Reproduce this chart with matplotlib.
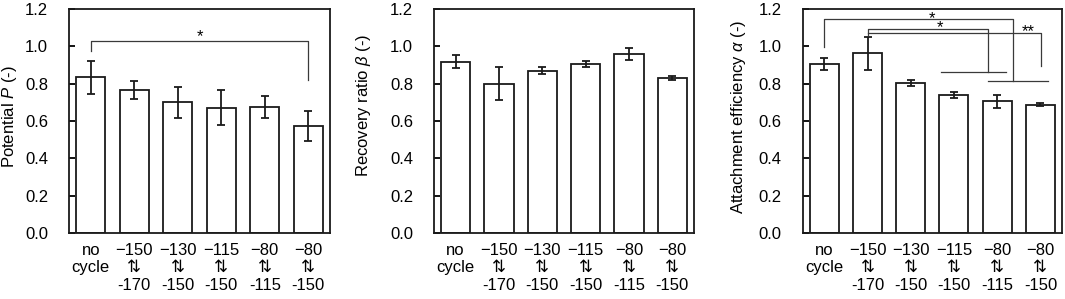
import numpy as np
import matplotlib
matplotlib.use("Agg")
import matplotlib.pyplot as plt

plt.rcParams['font.family'] = ['Liberation Sans', 'DejaVu Sans']
plt.rcParams['font.size'] = 12
plt.rcParams['mathtext.fontset'] = 'custom'
plt.rcParams['mathtext.rm'] = 'Liberation Sans'
plt.rcParams['mathtext.it'] = 'Liberation Sans:italic'

# categories
labels = ['no\ncycle', '\u2212150\n\u21c5\n-170', '\u2212130\n\u21c5\n-150',
          '\u2212115\n\u21c5\n-150', '\u221280\n\u21c5\n-115', '\u221280\n\u21c5\n-150']

# potential P
p_mean = [0.834, 0.768, 0.700, 0.671, 0.675, 0.573]
p_err = [0.087, 0.048, 0.082, 0.095, 0.060, 0.082]

# recovery ratio beta
b_mean = [0.918, 0.800, 0.869, 0.905, 0.959, 0.830]
b_err = [0.035, 0.090, 0.018, 0.014, 0.032, 0.010]

# attachment efficiency alpha
a_mean = [0.907, 0.962, 0.805, 0.741, 0.705, 0.687]
a_err = [0.032, 0.089, 0.015, 0.016, 0.033, 0.008]

ylabels = ['Potential $\\mathit{P}$ (-)', 'Recovery ratio $\\mathit{\\beta}$ (-)',
           'Attachment efficiency $\\mathit{\\alpha}$ (-)']

W, H = 1065, 299
fig = plt.figure(figsize=(W / 100, H / 100), dpi=100)
boxes = [(69, 261), (434, 260), (802.7, 259.3)]
label_pos = [(-0.19, 0.52), (-0.235, 0.57), (-0.21, 0.52)]
lw = 1.3
dark = '#1a1a1a'

axes = []
for left, width in boxes:
    ax = fig.add_axes([left / W, 66 / H, width / W, 224 / H])
    axes.append(ax)

x = np.arange(len(labels))
for ax, m, e, yl, lp in zip(axes, [p_mean, b_mean, a_mean], [p_err, b_err, a_err], ylabels, label_pos):
    ax.bar(x, m, width=0.67, color='white', edgecolor=dark, linewidth=lw,
           yerr=e, error_kw=dict(ecolor=dark, elinewidth=lw, capsize=2.7, capthick=lw))
    ax.set_xlim(-0.5, 5.5)
    ax.set_ylim(0, 1.2)
    ticks = np.arange(0, 1.21, 0.2)
    ax.set_yticks(ticks)
    ax.set_yticklabels([f'{v:.1f}' for v in ticks])
    ax.set_xticks(x)
    ax.set_xticklabels(labels)
    ax.tick_params(axis='x', length=0, pad=7)
    ax.tick_params(axis='y', direction='in', length=4, width=lw, pad=15)
    for s in ax.spines.values():
        s.set_linewidth(lw)
        s.set_color(dark)
    ax.set_ylabel(yl)
    ax.yaxis.set_label_coords(*lp)

bk = dict(color='#3a3a3a', linewidth=0.9)
star = dict(ha='center', va='center', fontsize=12)

# panel 1 bracket
ax = axes[0]
ax.plot([0, 0, 5, 5], [0.977, 1.027, 1.027, 0.82], **bk)
ax.text(2.5, 1.05, '*', **star)

# panel 3 brackets
ax = axes[2]
ax.plot([0, 0, 4.37, 4.37], [0.995, 1.146, 1.146, 0.814], **bk)
ax.plot([3.79, 5.18], [0.814, 0.814], **bk)
ax.text(2.49, 1.15, '*', **star)
ax.plot([1, 1, 3.78, 3.78], [1.06, 1.093, 1.093, 0.864], **bk)
ax.plot([2.69, 4.2], [0.864, 0.864], **bk)
ax.text(2.68, 1.10, '*', **star)
ax.plot([1, 5.01, 5.01], [1.073, 1.073, 0.896], **bk)
ax.text(4.72, 1.078, '**', **star)

fig.savefig('out.png', dpi=100)
